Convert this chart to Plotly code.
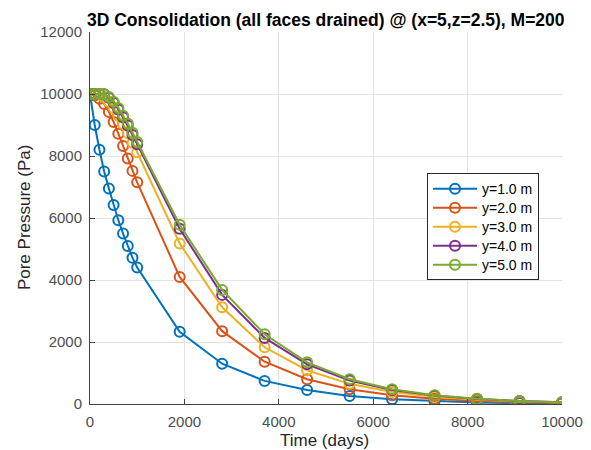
import plotly.graph_objects as go

time_days = [0, 100, 200, 300, 400, 500, 600, 700, 800, 900, 1000,
             1900, 2800, 3700, 4600, 5500, 6400, 7300, 8200, 9100, 10000]

p_y1 = [10000, 9000, 8200, 7500, 6950, 6420, 5930, 5500, 5100, 4720, 4400,
        2330, 1300, 745, 450, 258, 150, 90, 52, 31, 18]
p_y2 = [10000, 9950, 9850, 9680, 9420, 9100, 8720, 8320, 7920, 7520, 7150,
        4100, 2350, 1365, 800, 475, 280, 167, 99, 59, 35]
p_y3 = [10000, 10000, 9980, 9900, 9750, 9550, 9300, 9030, 8740, 8430, 8120,
        5180, 3120, 1830, 1090, 650, 385, 230, 136, 81, 48]
p_y4 = [10000, 10000, 10000, 9990, 9880, 9720, 9500, 9250, 8980, 8680, 8380,
        5650, 3520, 2130, 1280, 760, 450, 270, 160, 95, 57]
p_y5 = [10000, 10000, 10000, 9995, 9900, 9750, 9550, 9300, 9050, 8750, 8450,
        5780, 3680, 2250, 1345, 800, 476, 283, 168, 100, 60]

series_names = ["y=1.0 m", "y=2.0 m", "y=3.0 m", "y=4.0 m", "y=5.0 m"]
series_values = [p_y1, p_y2, p_y3, p_y4, p_y5]
colors = ["#0072BD", "#D95319", "#EDB120", "#7E2F8E", "#77AC30"]

x_ticks = [0, 2000, 4000, 6000, 8000, 10000]
x_tick_labels = ["0", "2000", "4000", "6000", "8000", "10000"]
y_ticks = [0, 2000, 4000, 6000, 8000, 10000, 12000]
y_tick_labels = ["0", "2000", "4000", "6000", "8000", "10000", "12000"]

title_text = "3D Consolidation (all faces drained) @ (x=5,z=2.5), M=200"
x_title = "Time (days)"
y_title = "Pore Pressure (Pa)"

FONT = "Liberation Sans, Arial, sans-serif"

fig = go.Figure()
for name, vals, c in zip(series_names, series_values, colors):
    fig.add_trace(go.Scatter(
        x=time_days, y=vals, mode="lines+markers",
        name='<span style="font-size:14px">' + name + '</span>',
        line=dict(color=c, width=2),
        marker=dict(symbol="circle-open", size=10, color=c,
                    line=dict(color=c, width=2)),
    ))

axis_common = dict(
    showgrid=True, gridcolor="#e3e3e3", gridwidth=1,
    showline=True, linecolor="#404040", linewidth=1,
    ticks="inside", ticklen=5, tickcolor="#404040",
    tickfont=dict(family=FONT, size=15, color="#4d4d4d"),
    zeroline=False, mirror=False, automargin=False,
)

fig.update_layout(
    width=591, height=450,
    margin=dict(l=90, r=29, t=32, b=46),
    paper_bgcolor="white", plot_bgcolor="white",
    font=dict(family=FONT, color="#262626"),
    xaxis=dict(range=[0, 10000], tickvals=x_ticks, ticktext=x_tick_labels,
               ticklabelstandoff=4, **axis_common),
    yaxis=dict(range=[0, 12000], tickvals=y_ticks, ticktext=y_tick_labels,
               ticklabelstandoff=4, **axis_common),
    legend=dict(
        x=0.714, y=0.62, xanchor="left", yanchor="top",
        bgcolor="white", bordercolor="#262626", borderwidth=1,
        font=dict(family=FONT, size=12.3, color="#000000"),
        tracegroupgap=0, itemwidth=44,
    ),
    showlegend=True,
    annotations=[
        dict(text="<b>" + title_text + "</b>", xref="paper", yref="paper",
             x=0.5, y=1.032, xanchor="center", yanchor="middle", showarrow=False,
             font=dict(family=FONT, size=17.5, color="#000000")),
        dict(text=x_title, xref="paper", yref="paper",
             x=0.4966, y=-0.097, xanchor="center", yanchor="middle", showarrow=False,
             font=dict(family=FONT, size=17, color="#262626")),
        dict(text=y_title, xref="paper", yref="paper", textangle=-90,
             x=-0.139, y=0.5035, xanchor="center", yanchor="middle", showarrow=False,
             font=dict(family=FONT, size=17, color="#262626")),
    ],
)

fig.write_html("out.html",
               config={"displayModeBar": False},
               post_script="document.body.style.margin='0';document.body.style.overflow='hidden';")
